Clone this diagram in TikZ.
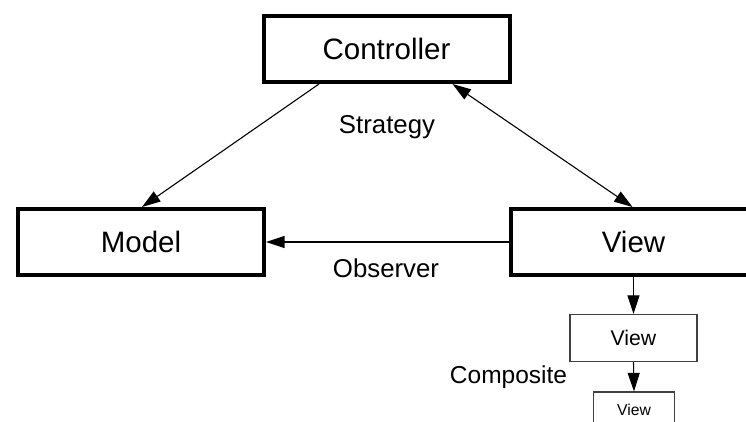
\documentclass[tikz,border=0pt]{standalone}
\usepackage{fontspec}
\setmainfont{Liberation Sans}
\usetikzlibrary{arrows.meta,calc}
\begin{document}
\begin{tikzpicture}[x=1pt,y=-1pt,
  bigbox/.style={draw=black,line width=4pt,fill=white,minimum width=246pt,minimum height=66pt,inner sep=0pt,font=\fontsize{29.5}{30}\selectfont},
  smallbox/.style={draw=black!75,line width=1.2pt,fill=white,inner sep=0pt},
  conn/.style={line width=1.1pt,draw=black},
  tip/.style={-{Triangle[length=18.5pt,width=12pt]}},
  dtip/.style={{Triangle[length=18.5pt,width=12pt]}-{Triangle[length=18.5pt,width=12pt]}},
  lbl/.style={anchor=base,inner sep=0pt,font=\fontsize{25.8}{26}\selectfont}]
\useasboundingbox (0,0) rectangle (746,422);
\clip (0,0) rectangle (746,422);

% the three main parts
\node[bigbox] (ctrl)  at (386.5,49)  {Controller};
\node[bigbox] (model) at (141,242)   {Model};
\node[bigbox] (view)  at (633.5,242) {View};

% nested views
\node[smallbox,minimum width=127pt,minimum height=47pt,font=\fontsize{21.2}{22}\selectfont] (v1) at (633.5,338) {View};
\node[smallbox,minimum width=81pt,minimum height=36pt,font=\fontsize{15.7}{16}\selectfont] (v2) at (634,410) {View};

% relations
\draw[conn,tip] ([xshift=-67.5pt]ctrl.south) -- ([xshift=1pt]model.north);
\draw[conn,dtip] ([xshift=66pt]ctrl.south) -- ([xshift=-1pt]view.north);
\draw[conn,tip] (view.west) -- (model.east);
\draw[conn,tip] (view.south) -- (v1.north);
\draw[conn,tip] (v1.south) -- (v2.north);

% pattern names
\node[lbl] (strategy)  at (387,134)   {Strategy};
\node[lbl] (observer)  at (386,277)   {Observer};
\node[lbl,font=\fontsize{24.5}{25}\selectfont] (composite) at (508.5,383) {Composite};
\end{tikzpicture}
\end{document}
